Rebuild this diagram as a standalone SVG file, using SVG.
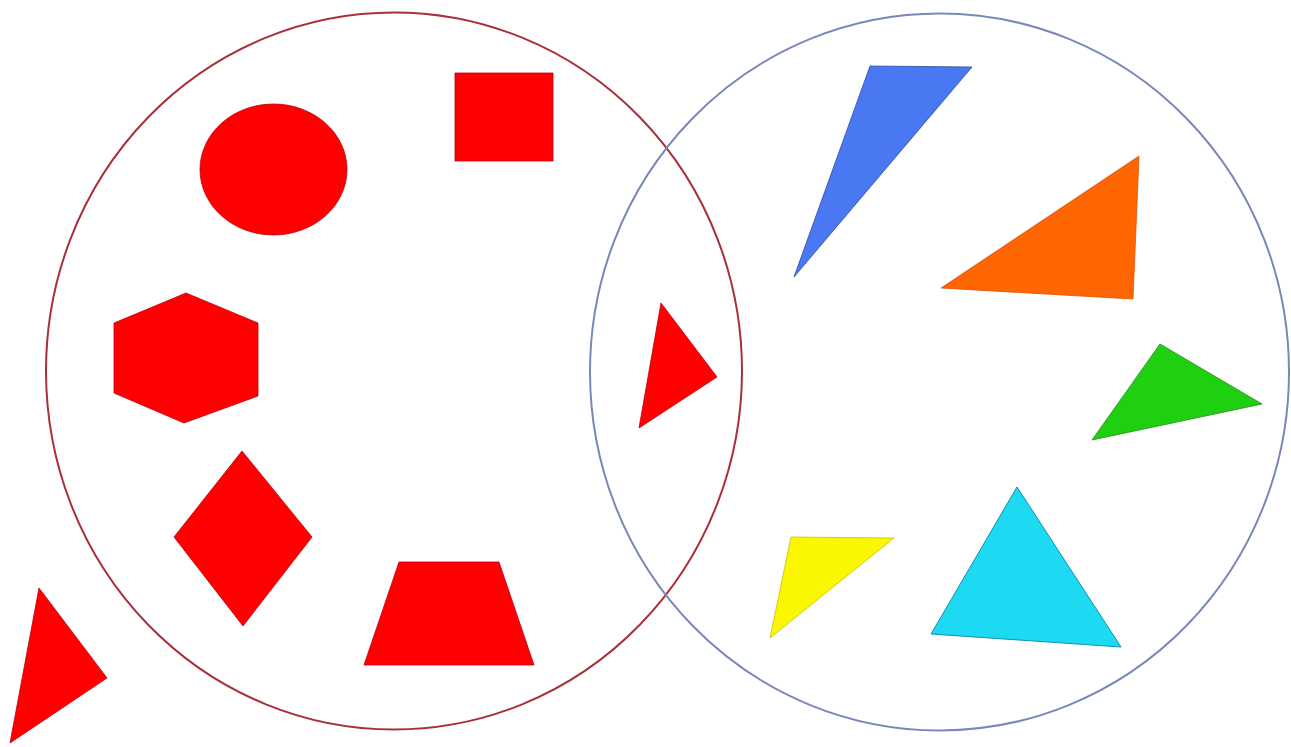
<svg xmlns="http://www.w3.org/2000/svg" width="1291" height="747" viewBox="0 0 1291 747">
<style>
.set{fill:none;stroke-width:2}
.red{fill:#fe0000;stroke:#c00010;stroke-width:0.8}
</style>
<rect width="1291" height="747" fill="#ffffff"/>
<g id="sets">
<ellipse id="setA" class="set" cx="394" cy="371" rx="348" ry="358.5" stroke="#a8303a"/>
<ellipse id="setB" class="set" cx="939.5" cy="372" rx="349.5" ry="358.5" stroke="#7a88b8"/>
</g>
<g id="circle"><ellipse class="red" cx="273.5" cy="169.5" rx="73.5" ry="65.5"/></g>
<g id="square"><rect class="red" x="455" y="73" width="98" height="88"/></g>
<g id="hexagon"><polygon class="red" points="186,293 258,323 258,396 184,423 114,393 114,323"/></g>
<g id="diamond"><polygon class="red" points="242,451 312,537 243,626 174,537"/></g>
<g id="trapezoid"><polygon class="red" points="399,562 499,562 534,665 364,665"/></g>
<g id="triangle-intersection"><polygon class="red" points="661,303 717,377 639,428"/></g>
<g id="triangle-outside"><polygon class="red" points="39,588 107,678 10,743"/></g>
<g id="triangle-blue"><polygon points="870,66 972,67 794,277" fill="#4a78f2" stroke="#2a4ca8" stroke-width="0.8"/></g>
<g id="triangle-orange"><polygon points="1139,156 1133,299 941,288" fill="#ff6500" stroke="#e05000" stroke-width="0.8"/></g>
<g id="triangle-green"><polygon points="1160,344 1262,404 1092,440" fill="#1ed010" stroke="#2a8a20" stroke-width="0.8"/></g>
<g id="triangle-yellow"><polygon points="791,537 894,538 770,638" fill="#fbf700" stroke="#c8c000" stroke-width="0.8"/></g>
<g id="triangle-cyan"><polygon points="1017,487 1121,647 931,634" fill="#1ed9f2" stroke="#1090b0" stroke-width="1"/></g>
</svg>
